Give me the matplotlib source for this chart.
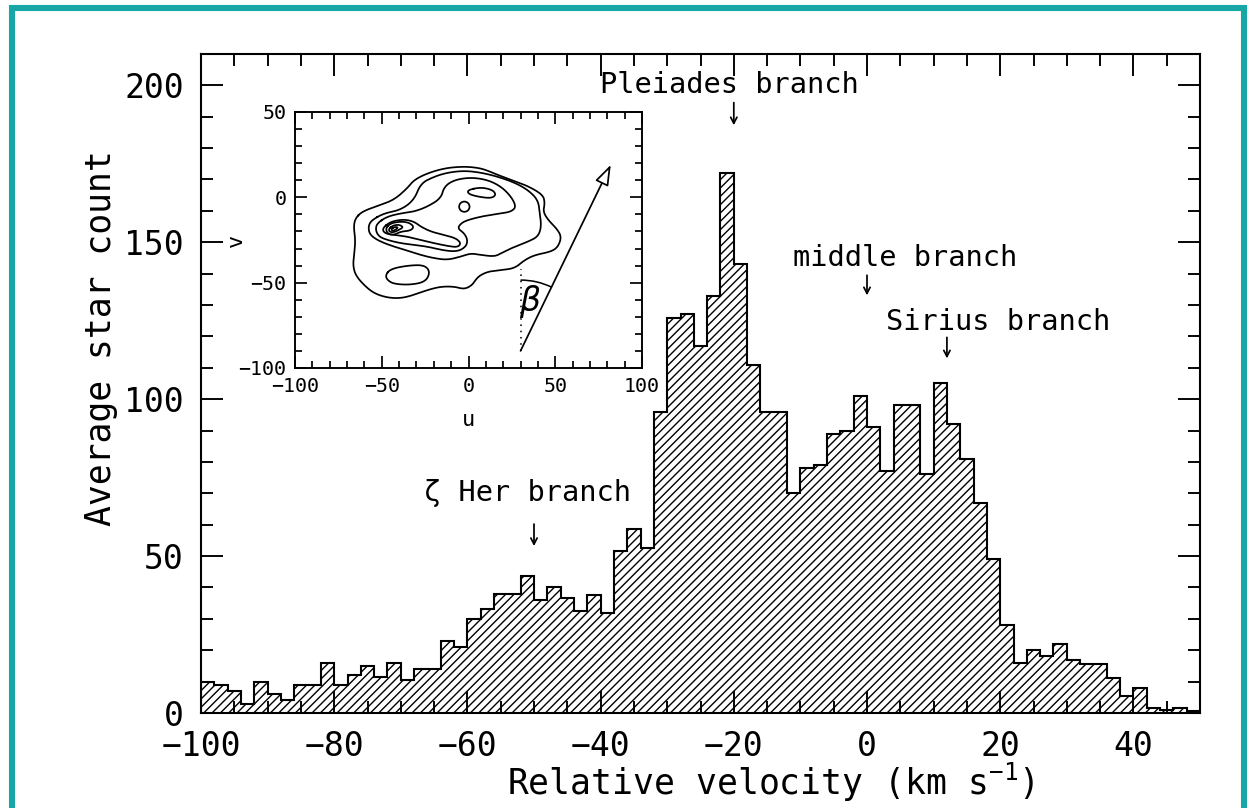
import numpy as np
import matplotlib
matplotlib.use("Agg")
import matplotlib.pyplot as plt
from matplotlib.patches import Rectangle, Ellipse, Arc, FancyArrowPatch
from matplotlib.ticker import MultipleLocator

plt.rcParams["font.family"] = ["DejaVu Sans Mono", "DejaVu Sans"]
plt.rcParams["mathtext.fontset"] = "custom"
plt.rcParams["mathtext.rm"] = "DejaVu Sans Mono"
plt.rcParams["hatch.linewidth"] = 0.8

# histogram of relative velocity, 2 km/s bins from -100 to 50
bin_edges = np.arange(-100, 51, 2)
star_count = [
    10, 9, 7, 3, 10, 6, 4, 9, 9, 16,
    9, 12, 15, 11.5, 16, 10.5, 14, 14, 23, 21,
    30, 33, 38, 38, 43.5, 36, 40, 36.5, 32.5, 37.5,
    32, 51.5, 58.5, 52.5, 96, 126, 127, 117, 133, 172,
    143, 111, 96, 96, 70, 78, 79, 89, 90, 101,
    91, 77, 98, 98, 76, 105, 92, 81, 67, 49,
    28, 16, 20, 18, 22, 17, 15.5, 15.5, 11, 5.5,
    8, 1.5, 1, 1.5, 0.5,
]

# branch labels and the small arrows under them
branch_names = ["Pleiades branch", "middle branch", "Sirius branch", "ζ Her branch"]
branch_text_x = [-20.6, 5.7, 19.7, -51.0]
branch_text_y = [200, 145, 124.5, 70]
branch_arrow_x = [-20, 0, 12, -50]
branch_arrow_top = [194.5, 139.5, 119.7, 60.2]
branch_arrow_tip = [187.3, 133.1, 113.0, 53.2]

# inset: contours of the (u, v) velocity distribution
contour_outer = [
    (-65.2, -12.3), (-61.4, -8.4), (-52.7, -5.1), (-43.0, -1.6), (-35.3, 5.3),
    (-31.4, 10.2), (-23.7, 14.1), (-14.0, 17.0), (-4.3, 18.0), (3.4, 17.6),
    (9.2, 16.4), (16.9, 13.1), (24.6, 10.2), (34.3, 6.6), (43.0, 1.4),
    (44.0, -3.5), (43.0, -8.4), (45.9, -13.3), (50.7, -18.2), (53.6, -23.0),
    (51.7, -28.9), (47.8, -31.8), (38.2, -33.8), (32.4, -36.7), (26.6, -41.6),
    (18.8, -42.6), (11.1, -43.5), (5.3, -46.5), (2.4, -51.3), (-2.4, -53.9),
    (-8.2, -52.3), (-15.9, -52.3), (-23.7, -54.3), (-31.4, -57.2), (-39.1, -59.2),
    (-46.9, -58.8), (-54.6, -56.2), (-60.4, -51.3), (-65.2, -45.5), (-66.6, -39.6),
    (-65.8, -32.8), (-65.2, -25.0), (-66.2, -17.2),
]
contour_second = [
    (-55.6, -13.3), (-48.8, -9.4), (-39.1, -7.4), (-31.4, -1.6), (-27.5, 8.2),
    (-19.8, 12.1), (-12.1, 14.5), (-2.4, 15.6), (7.2, 14.5), (16.9, 12.1),
    (26.6, 8.6), (34.3, 4.3), (40.1, -1.6), (41.1, -9.4), (42.0, -17.2),
    (40.1, -23.0), (34.3, -26.0), (26.6, -28.9), (18.8, -32.8), (15.0, -34.7),
    (7.2, -33.8), (1.4, -32.8), (-4.3, -34.7), (-12.1, -36.7), (-19.8, -35.7),
    (-27.5, -33.8), (-35.3, -31.2), (-43.0, -28.9), (-50.7, -26.0), (-55.6, -23.0),
    (-57.5, -20.1), (-57.5, -16.2),
]
contour_third = [
    (-52.7, -15.2), (-46.9, -11.3), (-39.1, -9.4), (-31.4, -8.4), (-23.7, -5.5),
    (-15.9, -0.6), (-14.0, 6.3), (-8.2, 10.2), (1.4, 11.7), (11.1, 10.2),
    (18.8, 6.3), (24.6, 0.4), (27.5, -5.5), (24.6, -8.4), (18.8, -9.4),
    (13.0, -10.3), (7.2, -11.3), (-0.5, -13.3), (-4.3, -15.2), (-6.3, -18.2),
    (-2.4, -21.1), (-0.5, -25.0), (-1.4, -28.9), (-6.3, -31.8), (-14.0, -31.2),
    (-23.7, -28.9), (-31.4, -27.9), (-39.1, -26.9), (-46.9, -25.0), (-51.7, -23.0),
    (-53.6, -19.1),
]
contour_tongue = [
    (-49.7, -18.2), (-44.9, -14.2), (-37.2, -12.9), (-31.4, -14.2), (-27.5, -17.2),
    (-21.7, -20.1), (-14.0, -22.1), (-7.2, -24.0), (-4.3, -26.9), (-6.3, -29.3),
    (-12.1, -28.5), (-19.8, -26.9), (-27.5, -25.0), (-35.3, -23.0), (-43.0, -22.1),
    (-48.4, -21.1),
]
contour_peak1 = [
    (-47.8, -18.2), (-44.9, -15.2), (-39.1, -14.2), (-34.3, -14.8), (-31.4, -17.2),
    (-33.3, -19.5), (-39.1, -20.1), (-43.0, -22.1), (-46.5, -21.5),
]
contour_peak2 = [
    (-46.0, -18.5), (-43.5, -16.5), (-40.0, -16.0), (-37.5, -17.5), (-40.0, -19.0),
    (-43.0, -20.5), (-45.5, -20.3),
]
contour_peak3 = [
    (-44.5, -18.5), (-42.5, -17.3), (-40.5, -17.6), (-42.0, -19.0), (-44.0, -19.8),
]
contour_bar = [
    (-0.5, 4.3), (7.2, 5.9), (14.0, 4.3), (15.9, 1.4), (13.0, -0.6),
    (5.3, 0.4), (-0.1, 2.0),
]
contour_lower = [
    (-47.8, -45.5), (-44.9, -42.0), (-35.3, -40.0), (-25.6, -39.6), (-22.1, -43.5),
    (-24.6, -49.4), (-33.3, -51.3), (-43.0, -50.8), (-46.9, -48.4),
]
blob_center = (-2.4, -5.5)
blob_size = 6.0

arrow_start = (30, -90)
arrow_end = (82, 19)


def chaikin(points, n=3):
    # corner cutting to round off the traced contour polygons
    pts = np.asarray(points, dtype=float)
    for _ in range(n):
        nxt = np.roll(pts, -1, axis=0)
        q = 0.75 * pts + 0.25 * nxt
        r = 0.25 * pts + 0.75 * nxt
        pts = np.empty((2 * len(q), 2))
        pts[0::2] = q
        pts[1::2] = r
    pts = np.vstack([pts, pts[:1]])
    return pts[:, 0], pts[:, 1]


fig = plt.figure(figsize=(10, 6.464), dpi=125)

# --- main histogram ---
ax = fig.add_axes([0.1608, 0.1176, 0.7992, 0.8156])
ax.stairs(star_count, bin_edges, fill=True, facecolor="none", edgecolor="black",
          hatch="/////", linewidth=0)
ax.stairs(star_count, bin_edges, color="black", linewidth=1.2, baseline=0)

ax.set_xlim(-100, 50)
ax.set_ylim(0, 210)
ax.xaxis.set_major_locator(MultipleLocator(20))
ax.xaxis.set_minor_locator(MultipleLocator(5))
ax.yaxis.set_major_locator(MultipleLocator(50))
ax.yaxis.set_minor_locator(MultipleLocator(10))
ax.tick_params(which="both", direction="in", top=True, right=True, width=1.1)
ax.tick_params(which="major", length=12.5, labelsize=19)
ax.tick_params(which="minor", length=7)
ax.tick_params(axis="y", pad=10)
ax.tick_params(axis="x", pad=10)
for s in ax.spines.values():
    s.set_linewidth(1.2)

ax.set_xlabel("Relative velocity (km s$^{-1}$)", fontsize=20)
ax.set_ylabel("Average star count", fontsize=20)
ax.xaxis.set_label_coords(0.57, -0.072)
ax.yaxis.set_label_coords(-0.083, 0.569)

for name, tx, ty in zip(branch_names, branch_text_x, branch_text_y):
    ax.text(tx, ty, name, fontsize=16.5, ha="center", va="center")
for bx, top, tip in zip(branch_arrow_x, branch_arrow_top, branch_arrow_tip):
    ax.annotate("", xy=(bx, tip), xytext=(bx, top),
                arrowprops=dict(arrowstyle="->,head_length=0.35,head_width=0.18",
                                color="black", linewidth=1.0,
                                shrinkA=0, shrinkB=0))

# --- inset: u-v plane ---
ins = fig.add_axes([0.236, 0.5446, 0.2776, 0.3168])
for c in [contour_outer, contour_second, contour_third, contour_tongue,
          contour_peak1, contour_peak2, contour_peak3, contour_bar, contour_lower]:
    cu, cv = chaikin(c)
    ins.plot(cu, cv, color="black", linewidth=1.0)
ins.add_patch(Ellipse(blob_center, blob_size, blob_size, fill=False,
                      edgecolor="black", linewidth=1.0))

ins.add_patch(FancyArrowPatch(arrow_start, arrow_end,
                              arrowstyle="-|>,head_length=10,head_width=3.5",
                              facecolor="white", edgecolor="black",
                              linewidth=1.0, shrinkA=0, shrinkB=0))
ins.plot([arrow_start[0], arrow_start[0]], [arrow_start[1], -42],
         color="black", linestyle=(0, (1, 3)), linewidth=0.9)
ins.add_patch(Arc(arrow_start, 82, 83, theta1=64, theta2=90,
                  color="black", linewidth=0.9))
ins.text(35.5, -61, r"$\beta$", fontsize=19, ha="center", va="center",
         family="DejaVu Sans")

ins.set_xlim(-100, 100)
ins.set_ylim(-100, 50)
ins.xaxis.set_major_locator(MultipleLocator(50))
ins.xaxis.set_minor_locator(MultipleLocator(10))
ins.yaxis.set_major_locator(MultipleLocator(50))
ins.yaxis.set_minor_locator(MultipleLocator(10))
ins.tick_params(which="both", direction="in", top=True, right=True, width=1.0)
ins.tick_params(which="major", length=7, labelsize=11.5, pad=5)
ins.tick_params(which="minor", length=4)
for s in ins.spines.values():
    s.set_linewidth(1.1)
ins.set_xlabel("u", fontsize=12.5, labelpad=8)
ins.set_ylabel("v", fontsize=12.5)
ins.yaxis.set_label_coords(-0.14, 0.5)

# teal frame round the figure
fig.add_artist(Rectangle((0.0096, -0.05), 0.9856, 1.0395, transform=fig.transFigure,
                         fill=False, edgecolor="#17a8a5", linewidth=3.5))

fig.savefig("out.png", dpi=125)
